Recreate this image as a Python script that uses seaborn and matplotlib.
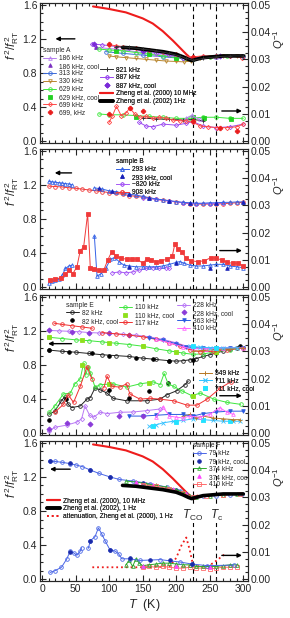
import numpy as np
import matplotlib
matplotlib.use('Agg')
from matplotlib import pyplot as plt
from matplotlib.lines import Line2D
from matplotlib.ticker import MultipleLocator, FormatStrFormatter
import seaborn as sns

sns.set_style('ticks')
plt.rcParams['font.family'] = ['Liberation Sans', 'DejaVu Sans']
plt.rcParams['mathtext.fontset'] = 'custom'
plt.rcParams['mathtext.rm'] = 'Liberation Sans'
plt.rcParams['mathtext.it'] = 'Liberation Sans:italic'

nan = np.nan

# ---------------- reference curves (Zheng et al.) ----------------
zheng10M_T = [76, 100, 125, 150, 165, 180, 195, 205, 215, 222, 226, 232]
zheng10M_f = [1.58, 1.55, 1.51, 1.44, 1.38, 1.29, 1.18, 1.10, 1.02, 0.97, 0.96, 0.98]
zheng1Hz_T = [120, 140, 160, 180, 200, 210, 218, 223, 230, 240, 255, 270, 300]
zheng1Hz_f = [1.10, 1.09, 1.07, 1.05, 1.02, 0.99, 0.96, 0.945, 0.96, 0.98, 0.99, 1.0, 1.0]
atten_T = [75, 100, 130, 160, 190, 200, 208, 215, 220, 225, 235, 245, 255, 265, 272]
atten_q = [0.0044, 0.0044, 0.0044, 0.0044, 0.0047, 0.0078, 0.0125, 0.0153, 0.0109, 0.0053,
           0.0047, 0.0047, 0.0059, 0.0078, 0.0091]

# ---------------- sample A ----------------
A186_T = [80, 110, 140, 170, 200, 225, 260, 300]
A186_f = [1.10, 1.08, 1.05, 1.02, 0.99, 0.97, 0.99, 1.0]
A186_qT = [215, 223, 235]
A186_q = [0.0085, 0.0095, 0.0080]
A186c_T = [80, 225]
A186c_f = [1.10, 0.97]
A313_T = [95, 120, 150, 180, 210, 225, 260, 300]
A313_f = [1.05, 1.03, 1.01, 0.99, 0.97, 0.96, 0.99, 1.0]
A330_T = [100, 110, 125, 140, 155, 170, 185, 200, 212, 222, 235, 250, 270, 290, 300]
A330_f = [1.00, 0.99, 0.98, 0.97, 0.96, 0.95, 0.94, 0.935, 0.93, 0.94, 0.97, 0.99, 1.0, 1.0, 1.0]
A629_T = [85, 100, 120, 140, 160, 180, 200, 215, 225, 250, 275, 300]
A629_f = [1.08, 1.07, 1.06, 1.04, 1.02, 1.0, 0.98, 0.97, 0.96, 0.99, 1.0, 1.0]
A629_qT = [85, 100, 120, 140, 160, 180, 200, 220, 240, 260, 280, 300]
A629_q = [0.0100, 0.0097, 0.0097, 0.0094, 0.0091, 0.0088, 0.0084, 0.0084, 0.0088, 0.0088, 0.0084, 0.0084]
A629c_T = [110, 160, 200]
A629c_f = [1.06, 1.02, 0.98]
A629c_qT = [140, 225, 242, 282]
A629c_q = [0.0090, 0.0088, 0.0084, 0.0080]
A699_T = [100, 110, 120, 140, 160, 180, 200, 215, 225, 240, 260, 280, 298]
A699_f = [1.13, 1.12, 1.11, 1.09, 1.07, 1.05, 1.02, 0.99, 0.99, 1.0, 1.0, 1.0, 0.98]
A699_qT = [100, 105, 111, 118, 125, 131, 138, 146, 155, 165, 175, 185, 195, 205, 215, 225,
           236, 248, 261, 275, 290, 300]
A699_q = [0.0069, 0.0094, 0.0128, 0.0094, 0.0103, 0.0122, 0.0100, 0.0088, 0.0091, 0.0084, 0.0088,
          0.0084, 0.0078, 0.0075, 0.0075, 0.0069, 0.0056, 0.0053, 0.0050, 0.0050, 0.0053, 0.0063]
A699c_T = [100, 225]
A699c_f = [1.14, 0.99]
A699c_qT = [100, 131, 150, 225, 265, 290]
A699c_q = [0.0100, 0.0122, 0.0112, 0.0075, 0.0050, 0.0038]
A821_T = [110, 130, 150, 170, 190, 205, 215, 225, 240, 260, 280, 300]
A821_f = [1.11, 1.10, 1.08, 1.06, 1.03, 1.0, 0.97, 0.95, 0.97, 0.99, 1.0, 1.0]
A821_qT = [150, 170, 190, 210, 225, 240]
A821_q = [0.0085, 0.0082, 0.0080, 0.0078, 0.0080, 0.0075]
A887_T = [75, 90, 110, 130, 150, 170, 190, 210, 225, 240, 260, 280, 300]
A887_f = [1.14, 1.13, 1.11, 1.09, 1.06, 1.04, 1.01, 0.98, 0.97, 0.99, 1.0, 1.0, 1.0]
A887_qT = [145, 155, 165, 180, 200, 215, 225, 240, 260, 280, 300]
A887_q = [0.0069, 0.0056, 0.0053, 0.0063, 0.0059, 0.0066, 0.0072, 0.0056, 0.0050, 0.0053, 0.0063]
A887c_T = [77, 150, 225, 265]
A887c_f = [1.14, 1.06, 0.97, 1.0]

# ---------------- sample B ----------------
B293_T = [10, 15, 20, 25, 30, 35, 40, 45, nan, 78, 90, 100, 110, 120, 130, 140, 150, 160, 170,
          180, 190, 200, 210, 220, 230, 240, 250, 260, 270, 280, 290, 300]
B293_f = [1.24, 1.235, 1.23, 1.225, 1.22, 1.215, 1.21, 1.20, nan, 1.165, 1.15, 1.13, 1.12, 1.105,
          1.09, 1.08, 1.065, 1.05, 1.035, 1.025, 1.015, 1.005, 0.995, 0.99, 0.985, 0.985, 0.99,
          0.99, 0.995, 0.995, 1.0, 1.0]
B293_qT = [10, 15, 20, 25, 30, 35, 40, 45, nan, 78, 82, 88, 95, 102, 108, 115, 122, 130, 140,
           150, 160, 170, 180, 190, 200, 205, 212, 220, 230, 240, 250, 260, 270, 280, 290, 300]
B293_q = [0.0016, 0.0022, 0.0025, 0.0031, 0.0044, 0.0069, 0.0078, 0.0081, nan, 0.0188, 0.0041,
          0.0050, 0.0069, 0.0103, 0.0109, 0.0094, 0.0081, 0.0078, 0.0075, 0.0075, 0.0075, 0.0075,
          0.0078, 0.0084, 0.0091, 0.0094, 0.0088, 0.0081, 0.0078, 0.0078, 0.0081, 0.0084, 0.0084,
          0.0078, 0.0075, 0.0072]
B293c_T = [85, 105, 130, 160, 190, 220, 260, 300]
B293c_f = [1.16, 1.13, 1.095, 1.05, 1.015, 0.99, 0.99, 1.0]
B293c_qT = [130, 200, 250, 275]
B293c_q = [0.0075, 0.0090, 0.0072, 0.0072]
B820_T = [150, 170, 190, 210, 230, 250, 270]
B820_f = [1.05, 1.03, 1.01, 0.99, 0.98, 0.98, 0.99]
B820_qT = [105, 115, 125, 135, 145, 155, 165, 175, 185, 190]
B820_q = [0.0053, 0.0056, 0.0053, 0.0056, 0.0063, 0.0069, 0.0072, 0.0069, 0.0072, 0.0069]
B908_T = [10, 20, 30, 40, 50, 60, 70, 80, 90, 100, 110, 120, 130, 140, 150, 160, 170, 180,
          190, 200, 210, 220, 230, 240, 250, 260, 270, 280, 290, 300]
B908_f = [1.185, 1.18, 1.175, 1.165, 1.16, 1.15, 1.14, 1.13, 1.12, 1.11, 1.1, 1.09, 1.075, 1.065,
          1.055, 1.045, 1.03, 1.02, 1.01, 1.0, 0.99, 0.98, 0.975, 0.975, 0.975, 0.975, 0.98, 0.985,
          0.99, 0.995]
B908_qT = [12, 20, 28, 35, 40, 46, 52, 57, 62, 68, 72, 78, 85, 92, 98, 104, 110, 118, 126, 134,
           142, 150, 156, 162, 170, 178, 186, 194, 198, 202, 208, 214, 222, 232, 242, 252, 260,
           268, 276, 284, 292, 300]
B908_q = [0.0028, 0.0031, 0.0034, 0.0047, 0.0063, 0.0050, 0.0075, 0.0134, 0.0147, 0.0269, 0.0069,
          0.0066, 0.0063, 0.0063, 0.0100, 0.0131, 0.0116, 0.0106, 0.0103, 0.0103, 0.0103, 0.0088,
          0.0103, 0.0100, 0.0094, 0.0097, 0.0103, 0.0113, 0.0159, 0.0141, 0.0131, 0.0109, 0.0097,
          0.0094, 0.0097, 0.0109, 0.0106, 0.0100, 0.0091, 0.0088, 0.0088, 0.0078]

# ---------------- sample E ----------------
E82_T = [10, 30, 50, 70, 90, 110, 130, 150, 170, 190, 200, 210, 220, 230, 240, 250, 260, 270, 280, 290]
E82_f = [0.975, 0.96, 0.95, 0.935, 0.92, 0.91, 0.90, 0.88, 0.865, 0.85, 0.845, 0.85, 0.86, 0.875,
         0.9, 0.92, 0.94, 0.965, 0.985, 1.0]
E82_qT = [11, 19, 29, 34, 39, 44, 57, 67, 72, 79, 87, 97, 106, 126, 156, 176, 186, 201, 213, 218]
E82_q = [0.0070, 0.0081, 0.0119, 0.0134, 0.0106, 0.0094, 0.0100, 0.0125, 0.0131, 0.0166, 0.0159,
         0.0147, 0.0128, 0.0119, 0.0119, 0.0125, 0.0141, 0.0156, 0.0178, 0.0191]
E82c_T = [10, 40, 75, 100, 140, 165, 190, 225, 295]
E82c_f = [0.975, 0.955, 0.935, 0.91, 0.885, 0.865, 0.85, 0.86, 1.02]
E82c_qT = [11, 36, 100, 130, 160, 188]
E82c_q = [0.0047, 0.0125, 0.0159, 0.0131, 0.0153, 0.0184]
E110_T = [10, 30, 50, 70, 90, 110, 130, 150, 170, 190, 210, 225, 240, 260, 280, 300]
E110_f = [1.125, 1.11, 1.095, 1.085, 1.07, 1.055, 1.04, 1.02, 0.99, 0.965, 0.94, 0.925, 0.93,
          0.955, 0.98, 1.0]
E110_qT = [11, 19, 32, 42, 49, 57, 62, 65, 69, 72, 79, 87, 106, 126, 146, 166, 176, 182, 188,
           196, 208, 223, 236, 256, 276, 296]
E110_q = [0.0077, 0.0100, 0.0144, 0.0147, 0.0181, 0.0200, 0.0256, 0.0213, 0.0244, 0.0222, 0.0169,
          0.0178, 0.0181, 0.0169, 0.0181, 0.0188, 0.0178, 0.0219, 0.0181, 0.0172, 0.0156, 0.0138,
          0.0147, 0.0125, 0.0113, 0.0106]
E110c_T = [10, 60, 100, 150, 200, 260]
E110c_f = [1.125, 1.09, 1.06, 1.02, 0.95, 0.955]
E110c_qT = [60, 100, 160, 225]
E110c_q = [0.0250, 0.0181, 0.0184, 0.0138]
E117_T = [18, 30, 45, 60, 75, nan, 90, 110, 130, 150, 170, 190, 205, 220, 235, 255, 275, 300]
E117_f = [1.29, 1.275, 1.26, 1.245, 1.23, nan, 1.18, 1.165, 1.15, 1.13, 1.10, 1.06, 1.02, 0.98,
          0.955, 0.96, 0.975, 1.0]
E117_qT = [19, 32, 39, 47, 57, 67, 74, nan, 92, 97, 104, 116, 126, 131, 146, 161, 176, 196, 216,
           231, 246, 266, 281]
E117_q = [0.0077, 0.0106, 0.0141, 0.0113, 0.0172, 0.0244, 0.0200, nan, 0.0166, 0.0209, 0.0172,
          0.0169, 0.0181, 0.0144, 0.0125, 0.0128, 0.0125, 0.0119, 0.0103, 0.0103, 0.0125, 0.0166,
          0.0188]
E228_T = [10, 25, 40, 55, 70, 85, 100, 120, 140, 160, 180, 200, 220, 240, 260, 280, 300]
E228_f = [1.205, 1.2, 1.195, 1.19, 1.18, 1.175, 1.17, 1.16, 1.15, 1.13, 1.10, 1.06, 1.01, 0.99,
          0.99, 0.995, 1.0]
E228_qT = [11, 19, 37, 52, 59, 64, 71, 77, 87, 97, 116, 136, 156, 176]
E228_q = [0.0009, 0.0022, 0.0030, 0.0041, 0.0053, 0.0100, 0.0066, 0.0059, 0.0077, 0.0072, 0.0077,
          0.0078, 0.0083, 0.0089]
E228c_T = [10, 45, 70, 100, 130]
E228c_f = [1.205, 1.19, 1.18, 1.17, 1.155]
E228c_qT = [11, 37, 72, 115, 150]
E228c_q = [0.0016, 0.0038, 0.0034, 0.0063, 0.0063]
E363_T = [160, 180, 200, 215, 225, 240, 260, 280, 300]
E363_f = [1.12, 1.09, 1.05, 1.01, 1.0, 1.0, 1.0, 1.0, 1.0]
E363_qT = [130, 150, 170, 190, 210, 225, 240, 260, 280, 300]
E363_q = [0.0063, 0.0063, 0.0066, 0.0069, 0.0069, 0.0063, 0.0072, 0.0078, 0.0081, 0.0081]
E410_T = [170, 190, 210, 225, 245, 270, 300]
E410_f = [1.1, 1.06, 1.01, 0.99, 0.99, 1.0, 1.0]
E410_qT = [170, 180, 190, 200, 210, 220, 235, 250, 265, 275, 285]
E410_q = [0.0059, 0.0097, 0.0063, 0.0059, 0.0056, 0.0063, 0.0059, 0.0069, 0.0094, 0.0078, 0.0069]
E549_T = [225, 240, 260, 280, 300]
E549_f = [0.96, 0.97, 0.98, 0.99, 1.0]
E549_qT = [210, 220, 230, 240, 255, 270, 285, 295]
E549_q = [0.0063, 0.0069, 0.0056, 0.0063, 0.0056, 0.0053, 0.0050, 0.0050]
E711_T = [220, 235, 250, 270, 290]
E711_f = [1.02, 1.01, 1.0, 1.0, 1.0]
E711_qT = [160, 170, 180, 195, 210, 225, 240, 255, 270, 285, 295]
E711_q = [0.0025, 0.0031, 0.0038, 0.0044, 0.0047, 0.0053, 0.0050, 0.0047, 0.0044, 0.0044, 0.0044]
E711c_T = [225, 260]
E711c_f = [1.02, 1.0]
E711c_qT = [165, 200, 240, 280]
E711c_q = [0.0028, 0.0042, 0.0050, 0.0044]

# ---------------- sample F ----------------
F79_T = [12, 20, 30, 42, 50, 60, 72, 85, 101, 115, 136, 161, 186, 206, 215, 223, 240, 260, 280, 298]
F79_f = [1.385, 1.38, 1.37, 1.355, 1.34, 1.32, 1.28, 1.24, 1.20, 1.17, 1.15, 1.12, 1.08, 1.04,
         1.0, 0.965, 0.97, 0.98, 0.99, 1.0]
F79_qT = [12, 19, 29, 37, 42, 47, 52, 57, 59, nan, 69, 72, 79, 84, 89, 94, 101, 109, 114, 119,
          131, 146, 176, 206, 223, 246, 286]
F79_q = [0.0025, 0.0031, 0.0044, 0.0075, 0.0103, 0.0097, 0.0088, 0.0103, 0.0116, nan, 0.0113,
         0.0141, 0.0156, 0.0188, 0.0166, 0.0141, 0.0109, 0.0103, 0.0094, 0.0075, 0.0075, 0.0069,
         0.0072, 0.0063, 0.0056, 0.0050, 0.0052]
F79c_T = [12, 42, 72, 101, 150, 200]
F79c_f = [1.39, 1.36, 1.28, 1.20, 1.13, 1.05]
F79c_qT = [42, 72, 101, 131, 161, 191, 223]
F79c_q = [0.0100, 0.0141, 0.0106, 0.0078, 0.0072, 0.0069, 0.0056]
F374_T = [125, 140, 155, 170, 185, 200, 210, 220, 230, 250, 270, 290]
F374_f = [1.15, 1.14, 1.12, 1.10, 1.08, 1.05, 1.02, 0.98, 0.96, 0.98, 0.99, 1.0]
F374_qT = [125, 130, 135, 140, 145, 150, 160, 170, 180, 190, 200, 210, 220, 230, 240, 250, 260,
           270, 280, 290]
F374_q = [0.0053, 0.0069, 0.0047, 0.0075, 0.0059, 0.0050, 0.0053, 0.0056, 0.0059, 0.0059, 0.0056,
          0.0053, 0.0053, 0.0047, 0.0047, 0.0047, 0.0047, 0.0050, 0.0053, 0.0053]
F374c_T = [140, 165, 195, 215]
F374c_f = [1.14, 1.11, 1.06, 1.0]
F374c_qT = [150, 200, 250]
F374c_q = [0.0050, 0.0050, 0.0045]
F410_T = [150, 170, 190, 210, 225, 245, 270, 295]
F410_f = [1.11, 1.09, 1.06, 1.01, 0.96, 0.975, 0.99, 1.0]
F410_qT = [150, 160, 170, 180, 190, 200, 210, 220, 230, 240, 250, 260, 270, 280, 290]
F410_q = [0.0044, 0.0047, 0.0044, 0.0047, 0.0044, 0.0041, 0.0041, 0.0044, 0.0041, 0.0041, 0.0038,
          0.0041, 0.0044, 0.0044, 0.0044]

T_CO, T_C = 225, 260


def style(color, marker, label, filled=False, ls='-', lw=0.7, ms=2.6):
    return dict(color=color, marker=marker, label=label, filled=filled, ls=ls, lw=lw, ms=ms)


st_z10 = style('#ee1c1c', None, 'Zheng et al. (2000) 10 MHz', lw=1.5)
st_z1 = style('black', None, 'Zheng et al. (2002) 1Hz', lw=2.6)
st_att = style('#ee1c1c', None, 'attenuation, Zheng et al. (2000), 1 Hz', ls=':', lw=1.3)

STA = {
    '186': style('#b57cf0', '^', '186 kHz'),
    '186c': style('#7a2fc0', '^', '186 kHz, cool', True, 'none'),
    '313': style('#3a6ad8', 'o', '313 kHz'),
    '330': style('#b8862e', 'v', '330 kHz'),
    '629': style('#3ce83c', 'o', '629 kHz'),
    '629c': style('#22d022', 's', '629 kHz, cool', True, 'none'),
    '699': style('#ff4848', 'D', '699 kHz', ms=2.2),
    '699c': style('#e81c1c', 'P', '699, kHz', True, 'none', ms=3.2),
    '821': style('#303030', '+', '821 kHz', ms=3.5),
    '887': style('#9c4cf0', 'D', '887 kHz', ms=2.2),
    '887c': style('#7a2ad8', 'D', '887 kHz, cool', True, 'none', ms=2.6),
}
STB = {
    '293': style('#3562e6', '^', '293 kHz'),
    '293c': style('#1a22b8', '^', '293 kHz, cool', True, 'none'),
    '820': style('#a85cf5', 'D', '~820 kHz', ms=2.2),
    '908': style('#f03a3a', 'o', '908 kHz'),
}
STE = {
    '82': style('#222222', 'o', '82 kHz'),
    '82c': style('black', 'o', '82 kHz, cool', True, 'none'),
    '110': style('#3ee63e', 'o', '110 kHz'),
    '110c': style('#8ee01c', 's', '110 kHz, cool', True, 'none'),
    '117': style('#f03030', 'o', '117 kHz'),
    '228': style('#b878f5', 'D', '228 kHz', ms=2.2),
    '228c': style('#8a3ad8', 'D', '228 kHz, cool', True, 'none', ms=2.6),
    '363': style('#2a5ae0', 'v', '363 kHz', True),
    '410': style('#ff66ff', '^', '410 kHz'),
    '549': style('#b87a28', '+', '549 kHz', ms=3.5),
    '711': style('#36c2ff', 'x', '711 kHz', ms=2.6),
    '711c': style('#22e2ff', 's', '711 kHz, cool', True, 'none'),
}
STF = {
    '79': style('#4a66e6', 'o', '79 kHz'),
    '79c': style('#1a2aa8', 'o', '79 kHz, cool', True, 'none'),
    '374': style('#2ea82e', '^', '374 kHz'),
    '374c': style('#ff44ff', '^', '374 kHz, cool', True, 'none'),
    '410': style('#ff6a6a', 's', '410 kHz'),
}
st_z10F = dict(st_z10, label='Zheng et al. (2000), 10 MHz')
st_z1F = dict(st_z1, label='Zheng et al. (2002), 1 Hz')


def draw(ax, T, v, st):
    T = np.asarray(T, dtype=float)
    v = np.asarray(v, dtype=float)
    gaps = np.flatnonzero(np.isnan(v))
    for idx in np.split(np.arange(len(v)), gaps):
        idx = idx[~np.isnan(v[idx])]
        if len(idx) == 0:
            continue
        kw = dict(color=st['color'], linestyle=st['ls'], linewidth=st['lw'])
        if st['marker']:
            kw.update(marker=st['marker'], markersize=st['ms'], markeredgecolor=st['color'],
                      markeredgewidth=0.6,
                      markerfacecolor=st['color'] if st['filled'] else 'none')
        sns.lineplot(x=T[idx], y=v[idx], ax=ax, legend=False, estimator=None, sort=False, **kw)


def handle(st):
    kw = dict(color=st['color'], linestyle=st['ls'], linewidth=st['lw'])
    if st['marker']:
        kw.update(marker=st['marker'], markersize=st['ms'], markeredgecolor=st['color'],
                  markeredgewidth=0.6,
                  markerfacecolor=st['color'] if st['filled'] else 'none')
    return Line2D([], [], label=st['label'], **kw)


def legend(ax, styles, anchor, title=None):
    lg = ax.legend(handles=[handle(s) for s in styles], loc='upper left', bbox_to_anchor=anchor,
                   title=title, title_fontsize=4.8, fontsize=4.8, frameon=False,
                   handlelength=2.0, handletextpad=0.4, labelspacing=0.12, borderpad=0.1,
                   borderaxespad=0, alignment='left')
    ax.add_artist(lg)


fig = plt.figure(figsize=(2.9, 6.18), dpi=100)
W, H = 290, 618
bottoms = [143, 289, 435, 581]
axes = []
for i, b in enumerate(bottoms):
    ax = fig.add_axes([40 / W, 1 - b / H, 208 / W, 140 / H])
    ax2 = ax.twinx()
    ax.set_xlim(-3, 307)
    ax.set_ylim(-0.02, 1.62)
    ax2.set_ylim(-0.02 / 32, 1.62 / 32)
    ax.xaxis.set_major_locator(MultipleLocator(50))
    ax.xaxis.set_minor_locator(MultipleLocator(10))
    ax.yaxis.set_major_locator(MultipleLocator(0.4))
    ax.yaxis.set_minor_locator(MultipleLocator(0.1))
    ax.yaxis.set_major_formatter(FormatStrFormatter('%.1f'))
    ax2.yaxis.set_major_locator(MultipleLocator(0.01))
    ax2.yaxis.set_minor_locator(MultipleLocator(0.0025))
    ax2.yaxis.set_major_formatter(FormatStrFormatter('%.2f'))
    for a in (ax, ax2):
        a.tick_params(which='both', direction='in', width=0.8, labelsize=7.5, pad=2)
        a.tick_params(which='major', length=4)
        a.tick_params(which='minor', length=2)
        for sp in a.spines.values():
            sp.set_linewidth(0.8)
    ax.tick_params(which='both', top=True, right=False, labelbottom=(i == 3))
    ax.set_ylabel(r'$f^{\,2}/f_{\rm RT}^{\,2}$', fontsize=8.5)
    ax.yaxis.set_label_coords(-0.09, 0.7)
    ax2.set_ylabel(r'$Q^{-1}$', fontsize=8, rotation=90)
    ax2.yaxis.set_label_coords(1.11, 0.74)
    for tv in (T_CO, T_C):
        ax.axvline(tv, color='black', ls=(0, (4, 3)), lw=0.8, zorder=0)
    axes.append((ax, ax2))

# ---- panel A ----
ax, ax2 = axes[0]
draw(ax, zheng10M_T, zheng10M_f, st_z10)
draw(ax, A330_T, A330_f, STA['330'])
draw(ax, A313_T, A313_f, STA['313'])
draw(ax, A186_T, A186_f, STA['186'])
draw(ax, A186c_T, A186c_f, STA['186c'])
draw(ax, A629_T, A629_f, STA['629'])
draw(ax, A629c_T, A629c_f, STA['629c'])
draw(ax, A887_T, A887_f, STA['887'])
draw(ax, A887c_T, A887c_f, STA['887c'])
draw(ax, A699_T, A699_f, STA['699'])
draw(ax, A699c_T, A699c_f, STA['699c'])
draw(ax, zheng1Hz_T, zheng1Hz_f, st_z1)
draw(ax, A821_T, A821_f, STA['821'])
draw(ax2, A629_qT, A629_q, STA['629'])
draw(ax2, A629c_qT, A629c_q, STA['629c'])
draw(ax2, A821_qT, A821_q, STA['821'])
draw(ax2, A887_qT, A887_q, STA['887'])
draw(ax2, A186_qT, A186_q, STA['186'])
draw(ax2, A699_qT, A699_q, STA['699'])
draw(ax2, A699c_qT, A699c_q, STA['699c'])
legend(ax2, [STA[k] for k in ['186', '186c', '313', '330', '629', '629c', '699', '699c']],
       (0.012, 0.69), 'sample A')
legend(ax2, [STA['821'], STA['887'], STA['887c'], st_z10, st_z1], (0.285, 0.55))

# ---- panel B ----
ax, ax2 = axes[1]
draw(ax, B908_T, B908_f, STB['908'])
draw(ax, B820_T, B820_f, STB['820'])
draw(ax, B293_T, B293_f, STB['293'])
draw(ax, B293c_T, B293c_f, STB['293c'])
draw(ax2, B820_qT, B820_q, STB['820'])
draw(ax2, B293_qT, B293_q, STB['293'])
draw(ax2, B293c_qT, B293c_q, STB['293c'])
draw(ax2, B908_qT, B908_q, dict(STB['908'], marker='s', filled=True, ms=2.2))
legend(ax2, [STB[k] for k in ['293', '293c', '820', '908']], (0.36, 0.94), 'sample B')

# ---- panel E ----
ax, ax2 = axes[2]
for k, T, v in [('82', E82_T, E82_f), ('82c', E82c_T, E82c_f), ('110', E110_T, E110_f),
                ('110c', E110c_T, E110c_f), ('228', E228_T, E228_f), ('228c', E228c_T, E228c_f),
                ('117', E117_T, E117_f), ('363', E363_T, E363_f), ('410', E410_T, E410_f),
                ('549', E549_T, E549_f), ('711', E711_T, E711_f), ('711c', E711c_T, E711c_f)]:
    draw(ax, T, v, STE[k])
for k, T, v in [('711', E711_qT, E711_q), ('711c', E711c_qT, E711c_q), ('549', E549_qT, E549_q),
                ('363', E363_qT, E363_q), ('410', E410_qT, E410_q), ('228', E228_qT, E228_q),
                ('228c', E228c_qT, E228c_q), ('82', E82_qT, E82_q), ('82c', E82c_qT, E82c_q),
                ('110', E110_qT, E110_q), ('110c', E110c_qT, E110c_q), ('117', E117_qT, E117_q)]:
    draw(ax2, T, v, STE[k])
legend(ax2, [STE['82'], STE['82c']], (0.12, 0.955), 'sample E')
legend(ax2, [STE['110'], STE['110c'], STE['117']], (0.375, 0.94))
legend(ax2, [STE[k] for k in ['228', '228c', '363', '410']], (0.655, 0.955))
legend(ax2, [STE[k] for k in ['549', '711', '711c']], (0.76, 0.47))

# ---- panel F ----
ax, ax2 = axes[3]
draw(ax, zheng10M_T, zheng10M_f, st_z10)
draw(ax, F79_T, F79_f, STF['79'])
draw(ax, F79c_T, F79c_f, STF['79c'])
draw(ax, F374_T, F374_f, STF['374'])
draw(ax, F374c_T, F374c_f, STF['374c'])
draw(ax, F410_T, F410_f, STF['410'])
draw(ax, zheng1Hz_T, zheng1Hz_f, st_z1)
draw(ax2, atten_T, atten_q, st_att)
draw(ax2, F410_qT, F410_q, STF['410'])
draw(ax2, F374_qT, F374_q, STF['374'])
draw(ax2, F374c_qT, F374c_q, STF['374c'])
draw(ax2, F79_qT, F79_q, STF['79'])
draw(ax2, F79c_qT, F79c_q, STF['79c'])
legend(ax2, [STF[k] for k in ['79', '79c', '374', '374c', '410']], (0.73, 0.995), 'sample F')
legend(ax2, [st_z10F, st_z1F, st_att], (0.03, 0.6))
ax.text(T_CO, 0.66, r'$T_{\rm CO}$', ha='center', va='bottom', fontsize=8.5,
        bbox=dict(fc='white', ec='none', pad=0.3))
ax.text(T_C, 0.66, r'$T_{\rm c}$', ha='center', va='bottom', fontsize=8.5,
        bbox=dict(fc='white', ec='none', pad=0.3))
ax.set_xlabel(r'$T$  (K)', fontsize=9, labelpad=2)

# ---- arrows ----
arrows = [((49, 1.20), (20, 1.20), (268, 0.355), (298, 0.355)),
          ((44, 1.34), (19, 1.34), (265, 0.43), (298, 0.43)),
          ((44, 1.05), (9, 1.05), (265, 0.44), (298, 0.44)),
          ((42, 1.29), (12, 1.29), (268, 0.28), (298, 0.28))]
for (ax, ax2), (l0, l1, r0, r1) in zip(axes, arrows):
    for a, b in ((l0, l1), (r0, r1)):
        ax2.annotate('', xy=(b[0], b[1] / 32), xytext=(a[0], a[1] / 32),
                     arrowprops=dict(arrowstyle='-|>', color='black', lw=1.0, mutation_scale=6,
                                     shrinkA=0, shrinkB=0))

plt.savefig('out.png', dpi=100)
